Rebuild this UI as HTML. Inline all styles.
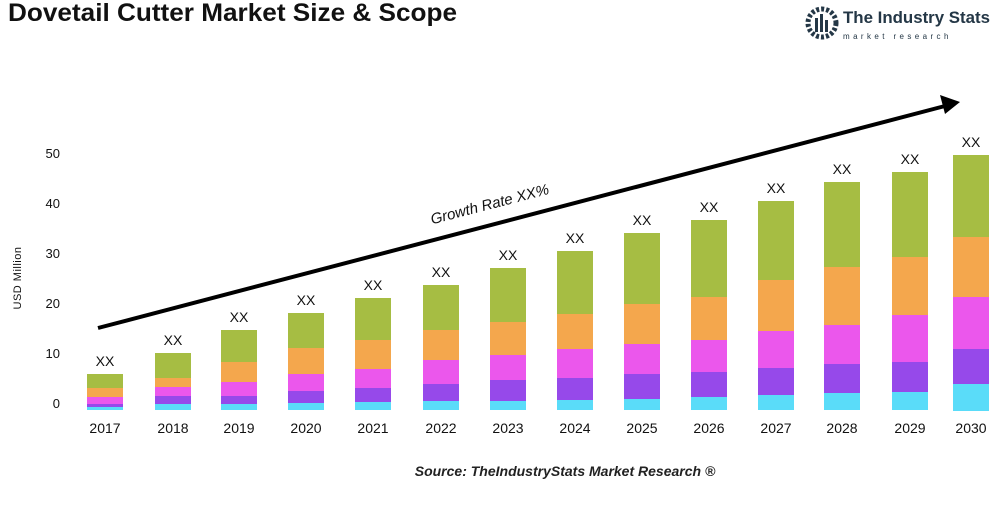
<!DOCTYPE html>
<html><head><meta charset="utf-8"><style>body{margin:0;background:#fff;width:1000px;height:500px;overflow:hidden;font-family:"Liberation Sans",sans-serif}</style></head><body>
<svg width="1000" height="500" xmlns="http://www.w3.org/2000/svg" font-family="Liberation Sans, sans-serif">
<text x="8" y="21" font-size="25" font-weight="bold" fill="#111" textLength="449" lengthAdjust="spacingAndGlyphs">Dovetail Cutter Market Size &amp; Scope</text>
<g fill="#243746"><circle cx="822" cy="23" r="14" fill="none" stroke="#243746" stroke-width="5" stroke-dasharray="3 2"/><rect x="815" y="18" width="3" height="14"/><rect x="820" y="14" width="3" height="18"/><rect x="825" y="20" width="3" height="12"/></g>
<text x="843" y="23" font-size="17" font-weight="bold" fill="#243746" textLength="147" lengthAdjust="spacingAndGlyphs">The Industry Stats</text>
<text x="843" y="39" font-size="8" fill="#243746" letter-spacing="3.4">market research</text>
<g font-size="13" fill="#111" text-anchor="end"><text x="60" y="158">50</text><text x="60" y="208">40</text><text x="60" y="258">30</text><text x="60" y="308">20</text><text x="60" y="358">10</text><text x="60" y="408">0</text></g>
<text transform="translate(21,278) rotate(-90)" font-size="11" fill="#111" text-anchor="middle" letter-spacing="0.5">USD Million</text>
<g id="bars"></g>
<line x1="98" y1="328" x2="945" y2="106" stroke="#000" stroke-width="4"/>
<polygon points="960,102 940,95 945,114" fill="#000"/>
<text transform="translate(491,209) rotate(-14.6)" font-size="15" font-style="italic" fill="#111" text-anchor="middle">Growth Rate XX%</text>
<text x="565" y="476" font-size="14" font-style="italic" font-weight="bold" fill="#222" text-anchor="middle">Source: TheIndustryStats Market Research ®</text>
</svg>
<script>
var d=[[105,374,388,397,404,407,410],[173,353,378,387,396,404,410],[239,330,362,382,396,404,410],[306,313,348,374,391,403,410],[373,298,340,369,388,402,410],[441,285,330,360,384,401,410],[508,268,322,355,380,401,410],[575,251,314,349,378,400,410],[642,233,304,344,374,399,410],[709,220,297,340,372,397,410],[776,201,280,331,368,395,410],[842,182,267,325,364,393,410],[910,172,257,315,362,392,410],[971,155,237,297,349,384,411]];
var c=["#a6bd43","#f4a74d","#eb57ec","#9649ea","#5adcf9"];var s="";
d.forEach(function(b,i){var x=b[0]-18;for(var k=0;k<5;k++)s+='<rect x="'+x+'" y="'+b[k+1]+'" width="36" height="'+(b[k+2]-b[k+1])+'" fill="'+c[k]+'"/>';
s+='<text x="'+b[0]+'" y="'+(b[1]-8)+'" font-size="14" text-anchor="middle" fill="#111">XX</text>';
s+='<text x="'+b[0]+'" y="433" font-size="14" text-anchor="middle" fill="#111">'+(2017+i)+'</text>';});
document.getElementById("bars").innerHTML=s;
</script>
</body></html>
